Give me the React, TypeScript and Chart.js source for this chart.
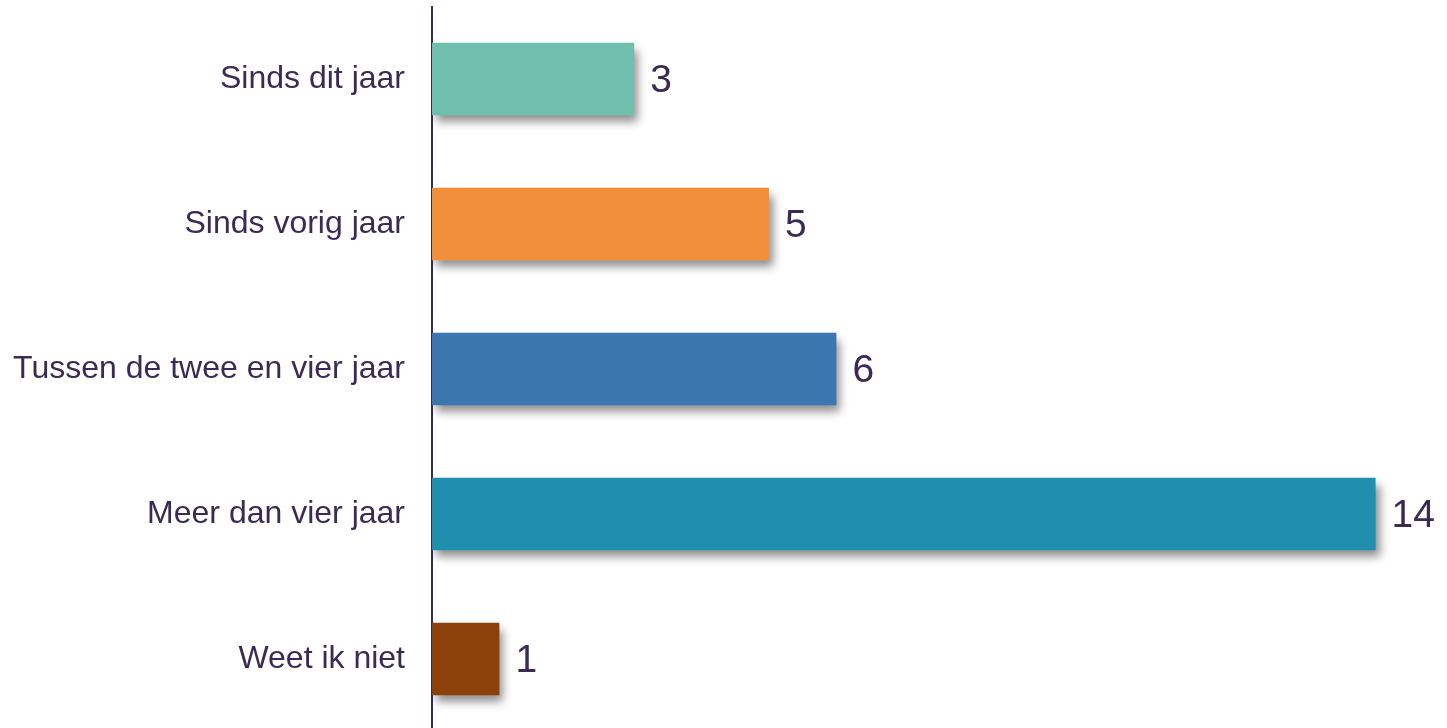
import React, { useEffect, useRef } from "react";
import { Chart, registerables } from "chart.js";

Chart.register(...registerables);

const categories = [
  "Sinds dit jaar",
  "Sinds vorig jaar",
  "Tussen de twee en vier jaar",
  "Meer dan vier jaar",
  "Weet ik niet",
];
const values = [3, 5, 6, 14, 1];
const barColors = ["#6fbeae", "#f18f3b", "#3b77ae", "#1f8fad", "#8b4109"];
const textColor = "#3b2a55";

export default function App() {
  const ref = useRef<HTMLCanvasElement>(null);
  useEffect(() => {
    if (!ref.current) return;
    const shadowPlugin = {
      id: "barShadow",
      beforeDatasetsDraw(chart: any) {
        const ctx = chart.ctx;
        ctx.save();
        ctx.shadowColor = "rgba(0,0,0,0.45)";
        ctx.shadowBlur = 9;
        ctx.shadowOffsetX = 4;
        ctx.shadowOffsetY = 7;
      },
      afterDatasetsDraw(chart: any) {
        const ctx = chart.ctx;
        ctx.restore();
        const meta = chart.getDatasetMeta(0);
        ctx.save();
        ctx.fillStyle = textColor;
        ctx.font = "39px 'Liberation Sans', Arial, sans-serif";
        ctx.textAlign = "left";
        ctx.textBaseline = "middle";
        meta.data.forEach((bar: any, i: number) => {
          ctx.fillText(String(values[i]), bar.x + 16, bar.y + 2);
        });
        ctx.restore();
      },
    };
    const chart = new Chart(ref.current, {
      type: "bar",
      data: {
        labels: categories,
        datasets: [
          {
            data: values,
            backgroundColor: barColors,
            borderWidth: 0,
            categoryPercentage: 1,
            barPercentage: 0.5,
          },
        ],
      },
      options: {
        indexAxis: "y",
        animation: false,
        responsive: false,
        maintainAspectRatio: false,
        layout: { padding: { top: 6.5, bottom: 0.5, left: 0, right: 4 } },
        plugins: {
          legend: { display: false },
          tooltip: { enabled: false },
        },
        scales: {
          x: {
            display: false,
            min: 0,
            max: 15,
          },
          y: {
            grid: { display: false, drawTicks: false },
            border: { display: true, color: textColor, width: 2 },
            ticks: {
              color: textColor,
              padding: 27,
              font: { size: 32, family: "'Liberation Sans', Arial, sans-serif" },
            },
            afterFit(scale: any) {
              scale.width = 432;
              scale.paddingTop = 0;
              scale.paddingBottom = 0;
            },
          },
        },
      },
      plugins: [shadowPlugin],
    });
    return () => chart.destroy();
  }, []);
  return (
    <div style={{ position: "fixed", left: 0, top: 0, width: 1447, height: 732, background: "#fff" }}>
      <canvas ref={ref} width={1447} height={732} style={{ display: "block" }} />
    </div>
  );
}
